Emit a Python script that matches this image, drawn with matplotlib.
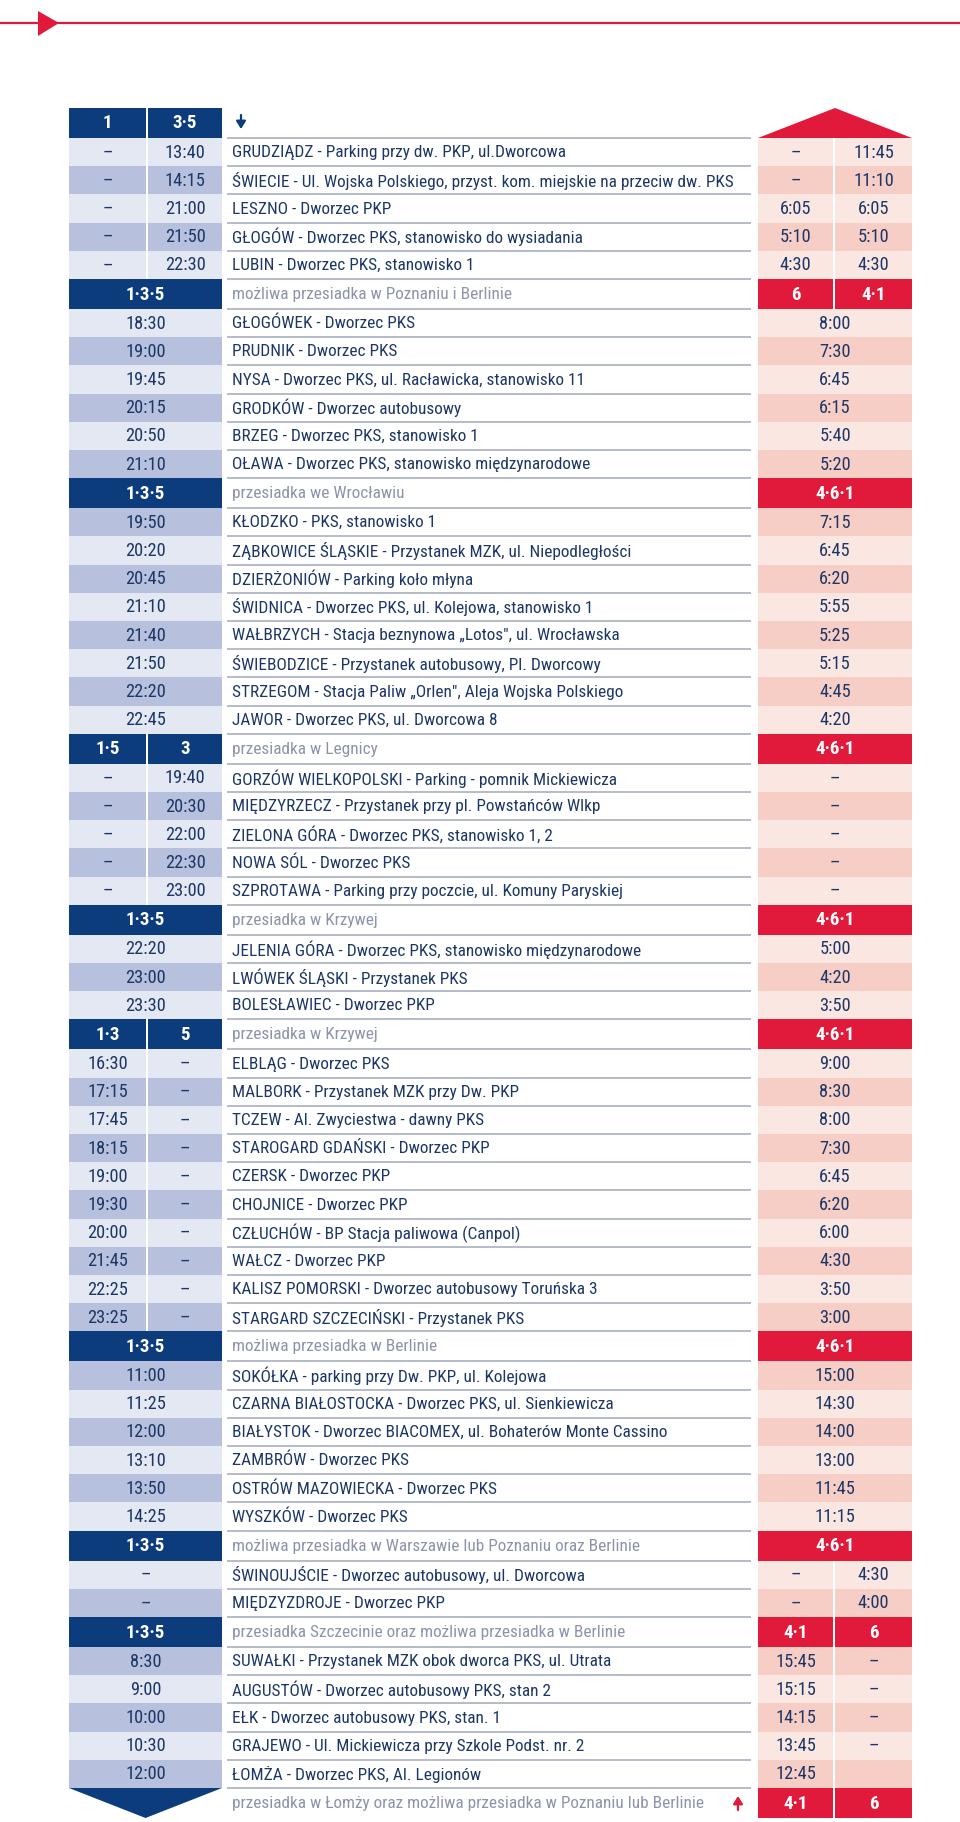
import matplotlib
matplotlib.use("Agg")
from matplotlib import pyplot as plt
from matplotlib import font_manager as fm
from matplotlib.patches import Rectangle, Polygon

# row kinds: top / h (section header) / d (stop) / bottom
kinds = (['top'] + ['d'] * 5 + ['h'] + ['d'] * 6 + ['h'] + ['d'] * 8 + ['h'] + ['d'] * 5
         + ['h'] + ['d'] * 3 + ['h'] + ['d'] * 10 + ['h'] + ['d'] * 6 + ['h'] + ['d'] * 2
         + ['h'] + ['d'] * 5 + ['bottom'])

# left columns (outbound), None in col_b = merged cell
col_a = ['1', '–', '–', '–', '–', '–',
         '1·3·5', '18:30', '19:00', '19:45', '20:15', '20:50', '21:10',
         '1·3·5', '19:50', '20:20', '20:45', '21:10', '21:40', '21:50', '22:20', '22:45',
         '1·5', '–', '–', '–', '–', '–',
         '1·3·5', '22:20', '23:00', '23:30',
         '1·3', '16:30', '17:15', '17:45', '18:15', '19:00', '19:30', '20:00', '21:45', '22:25', '23:25',
         '1·3·5', '11:00', '11:25', '12:00', '13:10', '13:50', '14:25',
         '1·3·5', '–', '–',
         '1·3·5', '8:30', '9:00', '10:00', '10:30', '12:00',
         None]
col_b = ['3·5', '13:40', '14:15', '21:00', '21:50', '22:30',
         None, None, None, None, None, None, None,
         None, None, None, None, None, None, None, None, None,
         '3', '19:40', '20:30', '22:00', '22:30', '23:00',
         None, None, None, None,
         '5', '–', '–', '–', '–', '–', '–', '–', '–', '–', '–',
         None, None, None, None, None, None, None,
         None, None, None,
         None, None, None, None, None, None,
         None]

stops = ['',
         'GRUDZIĄDZ - Parking przy dw. PKP, ul.Dworcowa',
         'ŚWIECIE - Ul. Wojska Polskiego, przyst. kom. miejskie na przeciw dw. PKS',
         'LESZNO - Dworzec PKP',
         'GŁOGÓW - Dworzec PKS, stanowisko do wysiadania',
         'LUBIN - Dworzec PKS, stanowisko 1',
         'możliwa przesiadka w Poznaniu i Berlinie',
         'GŁOGÓWEK - Dworzec PKS',
         'PRUDNIK - Dworzec PKS',
         'NYSA - Dworzec PKS, ul. Racławicka, stanowisko 11',
         'GRODKÓW - Dworzec autobusowy',
         'BRZEG - Dworzec PKS, stanowisko 1',
         'OŁAWA - Dworzec PKS, stanowisko międzynarodowe',
         'przesiadka we Wrocławiu',
         'KŁODZKO - PKS, stanowisko 1',
         'ZĄBKOWICE ŚLĄSKIE - Przystanek MZK, ul. Niepodległości',
         'DZIERŻONIÓW - Parking koło młyna',
         'ŚWIDNICA - Dworzec PKS, ul. Kolejowa, stanowisko 1',
         'WAŁBRZYCH - Stacja beznynowa „Lotos", ul. Wrocławska',
         'ŚWIEBODZICE - Przystanek autobusowy, Pl. Dworcowy',
         'STRZEGOM - Stacja Paliw „Orlen", Aleja Wojska Polskiego',
         'JAWOR - Dworzec PKS, ul. Dworcowa 8',
         'przesiadka w Legnicy',
         'GORZÓW WIELKOPOLSKI - Parking - pomnik Mickiewicza',
         'MIĘDZYRZECZ - Przystanek przy pl. Powstańców Wlkp',
         'ZIELONA GÓRA - Dworzec PKS, stanowisko 1, 2',
         'NOWA SÓL - Dworzec PKS',
         'SZPROTAWA - Parking przy poczcie, ul. Komuny Paryskiej',
         'przesiadka w Krzywej',
         'JELENIA GÓRA - Dworzec PKS, stanowisko międzynarodowe',
         'LWÓWEK ŚLĄSKI - Przystanek PKS',
         'BOLESŁAWIEC - Dworzec PKP',
         'przesiadka w Krzywej',
         'ELBLĄG - Dworzec PKS',
         'MALBORK - Przystanek MZK przy Dw. PKP',
         'TCZEW - Al. Zwyciestwa - dawny PKS',
         'STAROGARD GDAŃSKI - Dworzec PKP',
         'CZERSK - Dworzec PKP',
         'CHOJNICE - Dworzec PKP',
         'CZŁUCHÓW - BP Stacja paliwowa (Canpol)',
         'WAŁCZ - Dworzec PKP',
         'KALISZ POMORSKI - Dworzec autobusowy Toruńska 3',
         'STARGARD SZCZECIŃSKI - Przystanek PKS',
         'możliwa przesiadka w Berlinie',
         'SOKÓŁKA - parking przy Dw. PKP, ul. Kolejowa',
         'CZARNA BIAŁOSTOCKA - Dworzec PKS, ul. Sienkiewicza',
         'BIAŁYSTOK - Dworzec BIACOMEX, ul. Bohaterów Monte Cassino',
         'ZAMBRÓW - Dworzec PKS',
         'OSTRÓW MAZOWIECKA - Dworzec PKS',
         'WYSZKÓW - Dworzec PKS',
         'możliwa przesiadka w Warszawie lub Poznaniu oraz Berlinie',
         'ŚWINOUJŚCIE - Dworzec autobusowy, ul. Dworcowa',
         'MIĘDZYZDROJE - Dworzec PKP',
         'przesiadka Szczecinie oraz możliwa przesiadka w Berlinie',
         'SUWAŁKI - Przystanek MZK obok dworca PKS, ul. Utrata',
         'AUGUSTÓW - Dworzec autobusowy PKS, stan 2',
         'EŁK - Dworzec autobusowy PKS, stan. 1',
         'GRAJEWO - Ul. Mickiewicza przy Szkole Podst. nr. 2',
         'ŁOMŻA - Dworzec PKS, Al. Legionów',
         'przesiadka w Łomży oraz możliwa przesiadka w Poznaniu lub Berlinie']

# right columns (return), None in col_d = merged cell
col_c = [None, '–', '–', '6:05', '5:10', '4:30',
         '6', '8:00', '7:30', '6:45', '6:15', '5:40', '5:20',
         '4·6·1', '7:15', '6:45', '6:20', '5:55', '5:25', '5:15', '4:45', '4:20',
         '4·6·1', '–', '–', '–', '–', '–',
         '4·6·1', '5:00', '4:20', '3:50',
         '4·6·1', '9:00', '8:30', '8:00', '7:30', '6:45', '6:20', '6:00', '4:30', '3:50', '3:00',
         '4·6·1', '15:00', '14:30', '14:00', '13:00', '11:45', '11:15',
         '4·6·1', '–', '–',
         '4·1', '15:45', '15:15', '14:15', '13:45', '12:45',
         '4·1']
col_d = [None, '11:45', '11:10', '6:05', '5:10', '4:30',
         '4·1', None, None, None, None, None, None,
         None, None, None, None, None, None, None, None, None,
         None, None, None, None, None, None,
         None, None, None, None,
         None, None, None, None, None, None, None, None, None, None, None,
         None, None, None, None, None, None, None,
         None, '4:30', '4:00',
         '6', '–', '–', '–', '–', '',
         '6']

NAVY = '#0c3c7c'
BLUE_L = '#e4e8f3'
BLUE_D = '#b7c1dd'
RED = '#e1193a'
PINK_L = '#fbe7e1'
PINK_D = '#f6cec5'
INK = '#1c3767'
GREY = '#8d93ab'
RULE = '#a9afc0'

fig = plt.figure(figsize=(9.6, 18.22), dpi=100)
ax = fig.add_axes([0, 0, 1, 1])
ax.set_xlim(0, 960)
ax.set_ylim(1822, 0)
ax.axis('off')
renderer = fig.canvas.get_renderer()

# the leaflet uses a very narrow face: pick the installed family that gives
# the tallest capitals when the longest stop line is fitted to ~500 px
cap = {'Liberation Sans Narrow': 0.72, 'Roboto Condensed': 0.71, 'Noto Sans CJK SC': 0.66,
       'Lato': 0.72, 'Roboto': 0.71, 'Liberation Sans': 0.72, 'Open Sans': 0.71,
       'Noto Sans': 0.71, 'Inter': 0.73, 'DejaVu Sans': 0.73}
names = {f.name for f in fm.fontManager.ttflist}
best = None
for fam, ch in cap.items():
    if fam not in names:
        continue
    probe = ax.text(0, 0, stops[2], fontsize=10, family=[fam, 'DejaVu Sans'])
    w = probe.get_window_extent(renderer=renderer).width
    probe.remove()
    fs = 10 * 500 / w
    if best is None or fs * ch > best[2]:
        best = (fam, fs, fs * ch)
family, FS, _ = best
FS = min(FS, 13)
plt.rcParams['font.family'] = [family, 'DejaVu Sans']
FS_CELL = 13.2

# top decoration
ax.plot([0, 960], [23, 23], color=RED, lw=1.6, solid_capstyle='butt')
ax.add_patch(Polygon([(38, 11), (38, 36), (59, 23)], closed=True, color=RED, lw=0))

LA, LB, LM = (69, 146), (148, 222), (69, 222)
RA, RB, RM = (758, 833), (835, 912), (758, 912)
TX0, TX1 = 229, 751
ARROW = dict(arrowstyle='-|>,head_length=0.45,head_width=0.28', lw=1.6,
             shrinkA=0, shrinkB=0)


def cell(x, y0, h, fc, label, color, bold=False):
    ax.add_patch(Rectangle((x[0], y0), x[1] - x[0], h, fc=fc, ec='none'))
    if label:
        ax.text((x[0] + x[1]) / 2, y0 + h / 2 + 0.5, label, ha='center', va='center',
                fontsize=FS_CELL + (0.4 if bold else 0), color=color,
                fontweight='bold' if bold else 'normal')


y = 108
for i, kind in enumerate(kinds):
    h = 28.2 if kind == 'd' else 30
    mid = y + h / 2
    if kind == 'd':
        lf = BLUE_L if i % 2 else BLUE_D
        rf = PINK_L if i % 2 else PINK_D
        lc, rc, bold = INK, INK, False
        ax.text(TX0 + 3, mid + 0.5, stops[i], ha='left', va='center', fontsize=FS, color=INK)
    else:
        lf, rf, lc, rc, bold = NAVY, RED, 'white', 'white', True
        if stops[i]:
            ax.text(TX0 + 3, mid + 0.5, stops[i], ha='left', va='center', fontsize=FS, color=GREY)

    if kind == 'bottom':
        ax.add_patch(Polygon([(LM[0], y), (LM[1], y), ((LM[0] + LM[1]) / 2, y + h)],
                             closed=True, color=NAVY, lw=0))
        ax.annotate('', xy=(738, y + 8), xytext=(738, y + 22),
                    arrowprops=dict(ARROW, color=RED))
    elif col_b[i] is None:
        cell(LM, y, h, lf, col_a[i], lc, bold)
    else:
        cell(LA, y, h, lf, col_a[i], lc, bold)
        cell(LB, y, h, lf, col_b[i], lc, bold)

    if kind == 'top':
        ax.add_patch(Polygon([(RM[0], y + h), (RM[1], y + h), ((RM[0] + RM[1]) / 2, y)],
                             closed=True, color=RED, lw=0))
        ax.annotate('', xy=(241, y + 21), xytext=(241, y + 7),
                    arrowprops=dict(ARROW, color=NAVY))
    elif col_d[i] is None:
        cell(RM, y, h, rf, col_c[i], rc, bold)
    else:
        cell(RA, y, h, rf, col_c[i], rc, bold)
        cell(RB, y, h, rf, col_d[i], rc, bold)

    if kind != 'bottom':
        ax.plot([TX0 - 2, TX1], [y + h, y + h], color=RULE, lw=1.2, solid_capstyle='butt')
    y += h

plt.savefig('out.png', dpi=100)
